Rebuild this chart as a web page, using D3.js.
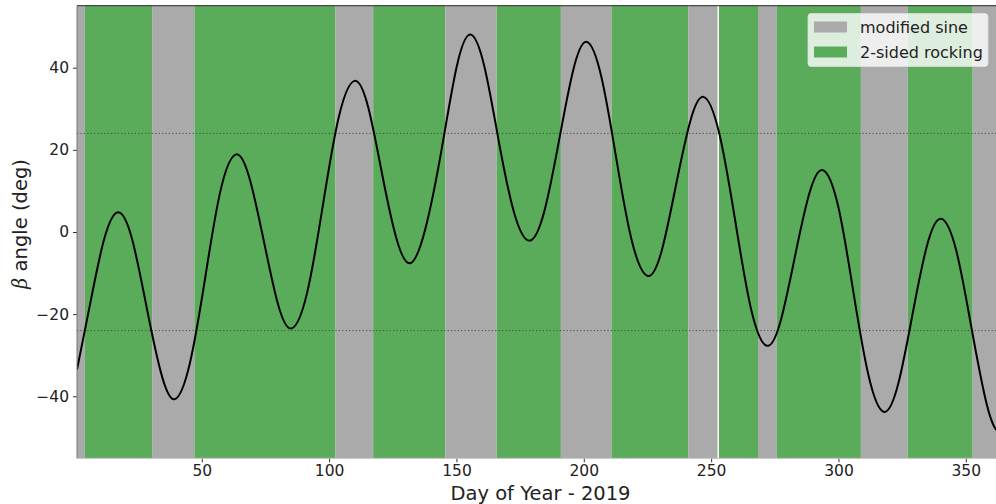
<!DOCTYPE html>
<html>
<head>
<meta charset="utf-8">
<script src="https://cdn.jsdelivr.net/npm/d3@7"></script>
<style>
  body { margin: 0; background: #ffffff; }
  svg { display: block; font-family: 'DejaVu Sans', sans-serif; }
</style>
</head>
<body>
<script>
// Attitude mode spans (day of year).
const bandStart = [1, 4.1, 30.5, 47.1, 102.5, 117.3, 145.6, 165.8, 191, 210.9, 241, 253.1, 268.4, 275.8, 308.8, 327.2, 352.7];
const bandEnd = [4.1, 30.5, 47.1, 102.5, 117.3, 145.6, 165.8, 191, 210.9, 241, 252.5, 268.4, 275.8, 308.8, 327.2, 352.7, 365];
const bandMode = ['modified sine', '2-sided rocking', 'modified sine', '2-sided rocking', 'modified sine', '2-sided rocking',
  'modified sine', '2-sided rocking', 'modified sine', '2-sided rocking', 'modified sine', '2-sided rocking',
  'modified sine', '2-sided rocking', 'modified sine', '2-sided rocking', 'modified sine'];

// Beta angle curve.
const days = [1, 6, 11.6, 17.2, 22.7, 28.4, 34, 39.3,
  45.3, 51.4, 57.4, 63.5, 68.9, 74.4, 79.8, 85.2,
  91.4, 97.6, 103.8, 110, 115.5, 121, 126.4, 131.9,
  137.8, 144, 150, 155.5, 161, 166.5, 172.5, 178.6,
  184.4, 190.2, 195.6, 201, 207, 213, 219, 225.2,
  230.7, 236.1, 241.6, 247, 253.2, 259.5, 265.7, 271.9,
  277.4, 282.8, 288.3, 293.7, 299.8, 305.8, 311.9, 317.9,
  323.5, 329, 334.6, 340.2, 346.2, 352.1, 358, 362, 365];
const beta = [-33.5, -18, -1.9, 4.8, -1.9, -18.5, -34.3, -40.7,
  -32, -10.9, 10.2, 18.9, 12.7, -2.3, -17.3, -23.5,
  -14.7, 6.7, 28, 36.8, 30, 13.5, -1.5, -7.6,
  0.8, 19.5, 40, 48.1, 40.2, 22.5, 5, -2.1,
  4.8, 22, 38.8, 46.3, 37.5, 17, -2.5, -10.7,
  -4.3, 11.1, 26.5, 32.9, 24, 2.6, -18.8, -27.7,
  -21.4, -6.3, 8.8, 15.1, 6.5, -14.4, -35.2, -43.8,
  -36.9, -20.3, -3.7, 3.2, -4.4, -22.9, -41.4, -48.2, -49];

// Threshold lines and ticks.
const thresholds = [24, -24];
const xTicks = [50, 100, 150, 200, 250, 300, 350];
const yTicks = [-40, -20, 0, 20, 40];
const legendLabels = ['modified sine', '2-sided rocking'];

const modeColor = {
  'modified sine': '#aaaaaa',
  '2-sided rocking': '#5aab5a'
};

// Dimensions.
const width = 996;
const height = 504;
const plotLeft = 77;
const plotRight = 1004;
const plotTop = 5.7;
const plotBottom = 458.3;

// Scales.
const xScale = d3.scaleLinear()
  .domain([1, 365])
  .range([plotLeft, plotRight]);
const yScale = d3.scaleLinear()
  .domain([-55.1, 55.1])
  .range([plotBottom, plotTop]);

const svg = d3.select('body')
  .append('svg')
  .attr('width', width)
  .attr('height', height);

svg.append('clipPath')
  .attr('id', 'plot-clip')
  .append('rect')
  .attr('x', plotLeft)
  .attr('y', plotTop)
  .attr('width', plotRight - plotLeft)
  .attr('height', plotBottom - plotTop);

const plot = svg.append('g')
  .attr('clip-path', 'url(#plot-clip)');

// Mode bands.
plot.selectAll('rect.band')
  .data(bandStart)
  .enter()
  .append('rect')
  .attr('class', 'band')
  .attr('x', (d) => xScale(d))
  .attr('y', plotTop)
  .attr('width', (d, i) => xScale(bandEnd[i]) - xScale(d))
  .attr('height', plotBottom - plotTop)
  .attr('fill', (d, i) => modeColor[bandMode[i]]);

// Dotted threshold lines.
plot.selectAll('line.threshold')
  .data(thresholds)
  .enter()
  .append('line')
  .attr('class', 'threshold')
  .attr('x1', plotLeft)
  .attr('x2', plotRight)
  .attr('y1', (d) => yScale(d))
  .attr('y2', (d) => yScale(d))
  .attr('stroke', '#4a4a4a')
  .attr('stroke-width', 1)
  .attr('stroke-dasharray', '1.2,2.2');

// Beta curve.
const line = d3.line()
  .x((d, i) => xScale(days[i]))
  .y((d) => yScale(d))
  .curve(d3.curveNatural);

plot.append('path')
  .datum(beta)
  .attr('d', line)
  .attr('fill', 'none')
  .attr('stroke', '#000000')
  .attr('stroke-width', 2);

// Axes.
const xAxis = d3.axisBottom(xScale)
  .tickValues(xTicks)
  .tickSize(4)
  .tickSizeOuter(0)
  .tickPadding(3);
const yAxis = d3.axisLeft(yScale)
  .tickValues(yTicks)
  .tickSize(4)
  .tickSizeOuter(0)
  .tickPadding(4)
  .tickFormat((d) => d < 0 ? '\u2212' + Math.abs(d) : d);

const gx = svg.append('g')
  .attr('transform', 'translate(0,' + plotBottom + ')')
  .call(xAxis);
const gy = svg.append('g')
  .attr('transform', 'translate(' + plotLeft + ',0)')
  .call(yAxis);

[gx, gy].forEach((g) =>
{
  g.select('.domain').remove();
  g.selectAll('.tick line').attr('stroke', '#333');
  g.selectAll('.tick text')
    .attr('fill', '#222')
    .style('font-size', '15.5px')
    .style('font-family', 'DejaVu Sans, sans-serif');
});

// Spines.
svg.append('line')
  .attr('x1', plotLeft).attr('x2', plotRight)
  .attr('y1', plotTop).attr('y2', plotTop)
  .attr('stroke', '#222').attr('stroke-width', 1);
svg.append('line')
  .attr('x1', plotLeft).attr('x2', plotRight)
  .attr('y1', plotBottom).attr('y2', plotBottom)
  .attr('stroke', '#bbbbbb').attr('stroke-width', 1);
svg.append('line')
  .attr('x1', plotLeft).attr('x2', plotLeft)
  .attr('y1', plotTop).attr('y2', plotBottom)
  .attr('stroke', '#777').attr('stroke-width', 1);

// Axis labels.
svg.append('text')
  .attr('x', (plotLeft + plotRight) / 2)
  .attr('y', 499.5)
  .attr('text-anchor', 'middle')
  .attr('fill', '#222')
  .style('font-size', '19.5px')
  .text('Day of Year - 2019');

const yLabel = svg.append('text')
  .attr('transform', 'translate(27,' + 224 + ') rotate(-90)')
  .attr('text-anchor', 'middle')
  .attr('fill', '#222')
  .style('font-size', '19.5px');
yLabel.append('tspan')
  .style('font-style', 'italic')
  .style('font-family', 'DejaVu Serif, serif')
  .text('\u03b2');
yLabel.append('tspan')
  .text(' angle (deg)');

// Legend.
const legend = svg.append('g')
  .attr('transform', 'translate(808,13.5)');
legend.append('rect')
  .attr('width', 180)
  .attr('height', 53)
  .attr('rx', 3)
  .attr('fill', '#ffffff')
  .attr('fill-opacity', 0.8)
  .attr('stroke', '#dddddd')
  .attr('stroke-opacity', 0.8);
legend.selectAll('rect.key')
  .data(legendLabels)
  .enter()
  .append('rect')
  .attr('class', 'key')
  .attr('x', 6)
  .attr('y', (d, i) => 8 + i * 25)
  .attr('width', 33)
  .attr('height', 11)
  .attr('fill', (d) => modeColor[d]);
legend.selectAll('text')
  .data(legendLabels)
  .enter()
  .append('text')
  .attr('x', 52)
  .attr('y', (d, i) => 14 + i * 25)
  .attr('dy', '0.35em')
  .attr('fill', '#222')
  .style('font-size', '16px')
  .text((d) => d);
</script>
</body>
</html>
